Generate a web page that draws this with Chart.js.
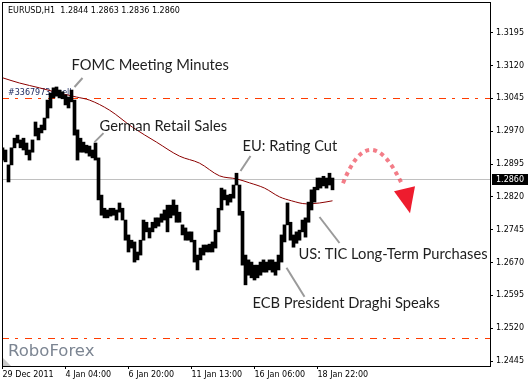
<!DOCTYPE html>
<html>
<head>
<meta charset="utf-8">
<script src="https://cdn.jsdelivr.net/npm/chart.js@4.4.1/dist/chart.umd.min.js"></script>
<style>
  html, body { margin: 0; padding: 0; background: #fff; }
</style>
</head>
<body>
<canvas id="eurusd_chart" width="530" height="383"></canvas>
<script>
// EURUSD H1 - hourly bars from 29 Dec 2011, one sample every 3 bars
const symbolName = 'EURUSD,H1';
const lastOhlc = [1.2844, 1.2863, 1.2836, 1.2860];

const barIndex = [0, 3, 6, 9, 12, 15, 18, 21, 24, 27, 30, 33, 36, 39, 42, 45, 48, 51, 54, 57,
    60, 63, 66, 69, 72, 75, 78, 81, 84, 87, 90, 93, 96, 99, 102, 105, 108, 111, 114, 117,
    120, 123, 126, 129, 132, 135, 138, 141, 144, 147, 150, 153, 156, 159, 162, 165, 168, 171, 174, 177,
    180, 183, 186, 189, 192, 195, 198, 201, 204, 207, 210, 213, 216, 219, 222, 225, 228, 231, 234, 237,
    240, 243, 246, 249, 252, 255, 258, 261, 264, 267, 270, 273, 276, 279, 282, 285, 288, 291, 294, 297,
    300, 303, 306, 309, 312, 315, 318, 321, 324, 327, 330];

const highs = [1.2932, 1.2927, 1.2893, 1.2932, 1.2954, 1.2961, 1.2950, 1.2954, 1.2943, 1.2927,
    1.2950, 1.2991, 1.2977, 1.2984, 1.3000, 1.3041, 1.3057, 1.3069, 1.3071, 1.3064,
    1.3060, 1.3053, 1.3048, 1.3064, 1.3041, 1.2973, 1.2954, 1.2945, 1.2938, 1.2936,
    1.2927, 1.2943, 1.2909, 1.2824, 1.2794, 1.2790, 1.2794, 1.2794, 1.2790, 1.2806,
    1.2794, 1.2767, 1.2733, 1.2721, 1.2717, 1.2694, 1.2721, 1.2767, 1.2762, 1.2749,
    1.2762, 1.2772, 1.2772, 1.2781, 1.2790, 1.2801, 1.2801, 1.2813, 1.2801, 1.2785,
    1.2756, 1.2749, 1.2740, 1.2740, 1.2721, 1.2687, 1.2703, 1.2710, 1.2710, 1.2712,
    1.2717, 1.2744, 1.2794, 1.2840, 1.2836, 1.2824, 1.2826, 1.2847, 1.2874, 1.2847,
    1.2787, 1.2687, 1.2676, 1.2671, 1.2664, 1.2664, 1.2671, 1.2676, 1.2671, 1.2676,
    1.2676, 1.2671, 1.2687, 1.2733, 1.2756, 1.2806, 1.2762, 1.2733, 1.2740, 1.2744,
    1.2767, 1.2772, 1.2808, 1.2836, 1.2842, 1.2863, 1.2863, 1.2867, 1.2863, 1.2874, 1.2863];

const lows = [1.2904, 1.2900, 1.2854, 1.2893, 1.2932, 1.2943, 1.2932, 1.2927, 1.2916, 1.2904,
    1.2922, 1.2959, 1.2950, 1.2966, 1.2973, 1.3000, 1.3023, 1.3046, 1.3050, 1.3046,
    1.3044, 1.3030, 1.3023, 1.3037, 1.2961, 1.2904, 1.2922, 1.2922, 1.2920, 1.2913,
    1.2909, 1.2904, 1.2813, 1.2778, 1.2772, 1.2772, 1.2776, 1.2778, 1.2767, 1.2785,
    1.2767, 1.2721, 1.2694, 1.2703, 1.2671, 1.2676, 1.2687, 1.2721, 1.2740, 1.2726,
    1.2740, 1.2749, 1.2753, 1.2762, 1.2767, 1.2740, 1.2772, 1.2778, 1.2762, 1.2762,
    1.2733, 1.2721, 1.2721, 1.2717, 1.2671, 1.2653, 1.2676, 1.2687, 1.2694, 1.2694,
    1.2694, 1.2703, 1.2740, 1.2790, 1.2813, 1.2801, 1.2808, 1.2817, 1.2847, 1.2778,
    1.2664, 1.2619, 1.2641, 1.2635, 1.2630, 1.2635, 1.2641, 1.2648, 1.2648, 1.2653,
    1.2648, 1.2641, 1.2653, 1.2671, 1.2717, 1.2756, 1.2721, 1.2705, 1.2714, 1.2721,
    1.2740, 1.2728, 1.2762, 1.2790, 1.2808, 1.2836, 1.2840, 1.2845, 1.2840, 1.2847, 1.2836];

// moving average (dark red)
const maIndex = [0, 17, 37, 57, 74, 87, 107, 130, 154, 177, 197, 217, 234, 247, 262, 277, 289, 304, 317, 330];
const maValues = [1.3092, 1.3080, 1.3069, 1.3057, 1.3048, 1.3041, 1.3018, 1.2979, 1.2945, 1.2913,
    1.2897, 1.2868, 1.2861, 1.2852, 1.2840, 1.2820, 1.2811, 1.2804, 1.2806, 1.2811];

const timeTicks = [0, 63, 126, 189, 252, 315];
const timeLabels = ['29 Dec 2011', '4 Jan 04:00', '6 Jan 20:00', '11 Jan 13:00', '16 Jan 06:00', '18 Jan 22:00'];
const priceTicks = [1.2445, 1.2520, 1.2595, 1.2670, 1.2745, 1.2820, 1.2895, 1.2970, 1.3045, 1.3120, 1.3195];

const bidPrice = 1.2860;
const orderLevels = [1.3045, 1.2497];
const orderLabel = '#33679734 sell';

const newsTitles = ['FOMC Meeting Minutes', 'German Retail Sales', 'EU: Rating Cut',
    'US: TIC Long-Term Purchases', 'ECB President Draghi Speaks'];
const newsBar = [72, 92, 238, 317, 284];
const newsPrice = [1.3071, 1.2945, 1.2879, 1.2774, 1.2658];

// offsets of leader line end / text start from the news point, px
const calloutLayout = [
    { lx: 8, ly: -9, tx: -3, ty: -22 },
    { lx: 9, ly: -9, tx: 5, ty: -16 },
    { lx: 10, ly: -15, tx: 2, ty: -25 },
    { lx: 20, ly: 26, tx: -21, ty: 37 },
    { lx: 18, ly: 29, tx: -34, ty: 35 }
];

const terminalDecor = {
    id: 'terminalDecor',
    beforeDatasetsDraw(chart) {
        const { ctx, chartArea: a, scales: { y } } = chart;
        ctx.save();
        // bid line
        let py = Math.round(y.getPixelForValue(bidPrice)) + 0.5;
        ctx.strokeStyle = '#c0c0c0';
        ctx.lineWidth = 1;
        ctx.beginPath(); ctx.moveTo(a.left, py); ctx.lineTo(a.right, py); ctx.stroke();
        // order levels
        ctx.strokeStyle = '#ff3c00';
        ctx.setLineDash([7, 6, 3, 7]);
        orderLevels.forEach(v => {
            const ly = Math.round(y.getPixelForValue(v)) + 0.5;
            ctx.beginPath(); ctx.moveTo(a.left, ly); ctx.lineTo(a.right, ly); ctx.stroke();
        });
        ctx.setLineDash([]);
        ctx.font = '8px "DejaVu Sans"';
        ctx.fillStyle = '#1c2a60';
        ctx.textBaseline = 'bottom';
        ctx.fillText(orderLabel, a.left + 6, y.getPixelForValue(orderLevels[0]) - 1);
        ctx.restore();
    },
    afterDatasetsDraw(chart) {
        const { ctx, chartArea: a, scales: { x, y } } = chart;
        ctx.save();
        // header
        ctx.font = '8px "DejaVu Sans"';
        ctx.fillStyle = '#000';
        ctx.textBaseline = 'middle';
        ctx.fillText(symbolName + '  ' + lastOhlc.map(v => v.toFixed(4)).join(' '), a.left + 6, a.top + 9);

        // news callouts
        ctx.font = '14.7px Lato';
        newsTitles.forEach((t, i) => {
            const px = x.getPixelForValue(newsBar[i]);
            const py = y.getPixelForValue(newsPrice[i]);
            const c = calloutLayout[i];
            ctx.strokeStyle = '#9a9a9a';
            ctx.lineWidth = 2;
            ctx.beginPath(); ctx.moveTo(px, py); ctx.lineTo(px + c.lx, py + c.ly); ctx.stroke();
            ctx.fillStyle = '#1e1e1e';
            ctx.textBaseline = 'middle';
            ctx.fillText(t, px + c.tx, py + c.ty);
        });

        // forecast arrow from the last bar
        const n = barIndex.length - 1;
        const ax = x.getPixelForValue(barIndex[n]);
        const ay = y.getPixelForValue(bidPrice);
        ctx.strokeStyle = 'rgba(238, 70, 85, 0.7)';
        ctx.lineWidth = 4;
        ctx.setLineDash([4, 4]);
        ctx.beginPath();
        ctx.moveTo(ax + 10.5, ay + 4);
        ctx.quadraticCurveTo(ax + 37.5, ay - 64, ax + 70, ay + 6);
        ctx.stroke();
        ctx.setLineDash([]);
        ctx.fillStyle = '#ee1c2e';
        ctx.beginPath();
        ctx.moveTo(ax + 61.5, ay + 12);
        ctx.lineTo(ax + 82.5, ay + 7);
        ctx.lineTo(ax + 77.5, ay + 34);
        ctx.closePath();
        ctx.fill();

        // watermark
        ctx.font = '16.5px "DejaVu Sans"';
        ctx.fillStyle = '#7c8592';
        ctx.textBaseline = 'alphabetic';
        ctx.fillText('RoboForex', a.left + 6, a.bottom - 10);

        // corner marker
        ctx.fillStyle = '#c8c8c8';
        ctx.beginPath();
        ctx.moveTo(a.left + 1, a.bottom - 8);
        ctx.lineTo(a.left + 1, a.bottom);
        ctx.lineTo(a.left + 9, a.bottom);
        ctx.closePath();
        ctx.fill();

        // frame
        ctx.strokeStyle = '#000';
        ctx.lineWidth = 1;
        ctx.strokeRect(a.left + 0.5, a.top + 0.5, a.right - a.left, a.bottom - a.top);
        ctx.restore();
    },
    afterDraw(chart) {
        const { ctx, chartArea: a, scales: { y } } = chart;
        const py = Math.round(y.getPixelForValue(bidPrice));
        ctx.save();
        ctx.fillStyle = '#000';
        ctx.fillRect(a.right + 2, py - 5, 36, 11);
        ctx.fillStyle = '#fff';
        ctx.font = '8px "DejaVu Sans"';
        ctx.textBaseline = 'middle';
        ctx.fillText(bidPrice.toFixed(4), a.right + 6, py + 0.5);
        ctx.restore();
    }
};

Chart.defaults.font.family = '"DejaVu Sans"';

const eurusd_chart = document.getElementById('eurusd_chart').getContext('2d');
new Chart(eurusd_chart, {
    type: 'bar',
    data: {
        datasets: [{
            type: 'bar',
            data: barIndex.map((v, i) => ({ x: v, y: [lows[i], highs[i]] })),
            backgroundColor: '#000',
            borderWidth: 0,
            barPercentage: 1,
            categoryPercentage: 1,
            order: 1
        }, {
            type: 'line',
            data: maIndex.map((v, i) => ({ x: v, y: maValues[i] })),
            borderColor: '#8b0000',
            borderWidth: 1,
            pointRadius: 0,
            cubicInterpolationMode: 'monotone',
            order: 2
        }]
    },
    options: {
        responsive: false,
        animation: false,
        devicePixelRatio: 1,
        layout: { padding: { left: 2, top: 2, right: 0, bottom: 0 }, autoPadding: false },
        plugins: { legend: { display: false }, tooltip: { enabled: false } },
        scales: {
            x: {
                type: 'linear',
                min: -0.5,
                max: 487.5,
                offset: false,
                afterBuildTicks: s => { s.ticks = timeTicks.map(v => ({ value: v })); },
                afterFit: s => { s.height = 17; s.paddingLeft = 0; s.paddingRight = 0; },
                grid: { drawOnChartArea: false, offset: false, tickLength: 3, color: '#000' },
                border: { display: false },
                ticks: {
                    align: 'start', padding: 1, maxRotation: 0, autoSkip: false,
                    color: '#000', font: { size: 8 },
                    callback: v => timeLabels[timeTicks.indexOf(v)] || ''
                }
            },
            y: {
                position: 'right',
                min: 1.24336,
                max: 1.32651,
                afterBuildTicks: s => { s.ticks = priceTicks.map(v => ({ value: v })); },
                afterFit: s => { s.width = 40; s.paddingTop = 0; s.paddingBottom = 0; },
                grid: { drawOnChartArea: false, tickLength: 3, color: '#000' },
                border: { display: false },
                ticks: { padding: 3, color: '#000', font: { size: 8 }, callback: v => v.toFixed(4) }
            }
        }
    },
    plugins: [terminalDecor]
});
</script>
</body>
</html>
